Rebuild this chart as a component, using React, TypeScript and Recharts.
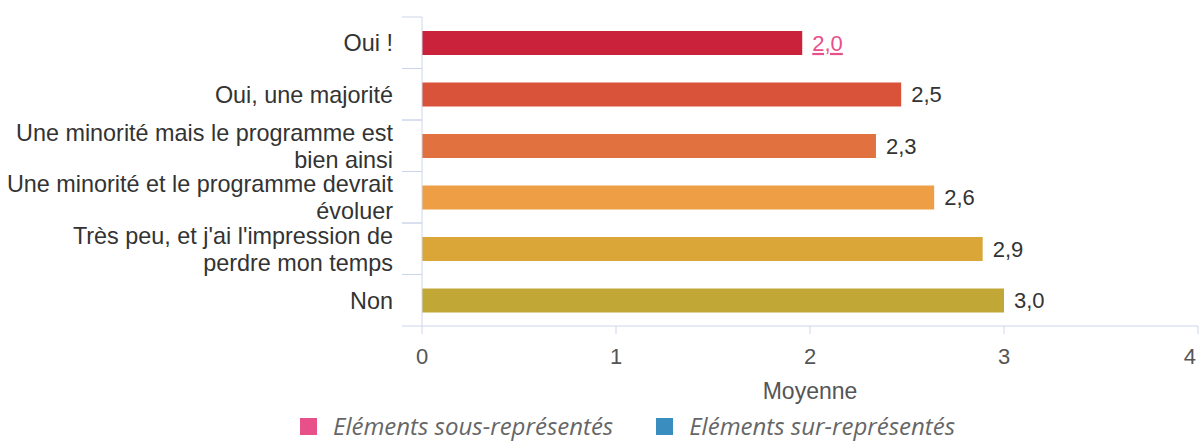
import React from "react";
import { BarChart, Bar, XAxis, YAxis, Cell, LabelList, Legend } from "recharts";

const categories = [
  "Oui !",
  "Oui, une majorité",
  "Une minorité mais le programme est bien ainsi",
  "Une minorité et le programme devrait évoluer",
  "Très peu, et j'ai l'impression de perdre mon temps",
  "Non"
];

// tick labels as they wrap in the original
const tickLabels = [
  ["Oui !"],
  ["Oui, une majorité"],
  ["Une minorité mais le programme est", "bien ainsi"],
  ["Une minorité et le programme devrait", "évoluer"],
  ["Très peu, et j'ai l'impression de", "perdre mon temps"],
  ["Non"]
];

const means = [1.96, 2.47, 2.34, 2.64, 2.89, 3.0];

const barColors = ["#C9223A", "#D9533B", "#E1713F", "#EE9F45", "#D9A637", "#C0A736"];

const underRepresented = ["Oui !"];

const xTicks = [0, 1, 2, 3, 4];

const legendItems = [
  { label: "Eléments sous-représentés", color: "#E8508A" },
  { label: "Eléments sur-représentés", color: "#3A8DBF" }
];

const data = categories.map((name, i) => ({ name, mean: means[i] }));

const axisColor = "#ccd6eb";
const fmt = (v: number) => v.toFixed(1).replace(".", ",");

const CategoryTick = (props: any) => {
  const { x, y, payload } = props;
  const lines = tickLabels[payload.index] || [String(payload.value)];
  const half = payload.offset || 25.7;
  const lh = 27;
  const start = -((lines.length - 1) * lh) / 2;
  return (
    <g>
      <line x1={x - 20} x2={x} y1={y - half} y2={y - half} stroke={axisColor} />
      <line x1={x - 20} x2={x} y1={y + half} y2={y + half} stroke={axisColor} />
      <text x={x - 29} y={y} textAnchor="end" fontSize={23.4} fill="#333">
        {lines.map((l: string, i: number) => (
          <tspan key={i} x={x - 29} y={y + start + i * lh} dy="0.36em">
            {l}
          </tspan>
        ))}
      </text>
    </g>
  );
};

const ValueTick = (props: any) => {
  const { x, y, payload, index } = props;
  const last = index === xTicks.length - 1;
  return (
    <text x={x} y={y + 30} textAnchor={last ? "end" : "middle"} fontSize={22} fill="#555">
      {payload.value}
    </text>
  );
};

const ValueLabel = (props: any) => {
  const { x, y, width, height, value, index } = props;
  const pink = underRepresented.includes(categories[index]);
  return (
    <text
      x={x + width + 10}
      y={y + height / 2}
      dy="0.36em"
      fontSize={22}
      fill={pink ? "#E8508A" : "#333"}
      textDecoration={pink ? "underline" : undefined}
    >
      {fmt(value)}
    </text>
  );
};

const LegendContent = () => (
  <div
    style={{
      height: 36,
      display: "flex",
      alignItems: "center",
      paddingLeft: 300,
      paddingTop: 2,
      boxSizing: "border-box",
      fontFamily: "'Open Sans', sans-serif",
      fontStyle: "italic",
      fontSize: 24,
      lineHeight: "26px",
      color: "#666"
    }}
  >
    {legendItems.map((it, i) => (
      <div key={it.label} style={{ display: "flex", alignItems: "center", marginLeft: i ? 43 : 0 }}>
        <div style={{ width: 17, height: 17, background: it.color, marginRight: 16 }} />
        <span style={{ whiteSpace: "nowrap" }}>{it.label}</span>
      </div>
    ))}
  </div>
);

export default function App() {
  return (
    <div style={{ position: "absolute", left: 0, top: 0, width: 1200, height: 443, background: "#fff", overflow: "hidden" }}>
      <BarChart
        width={1200}
        height={443}
        data={data}
        layout="vertical"
        margin={{ top: 17, right: 2, bottom: 0, left: 0 }}
        style={{ fontFamily: "'Liberation Sans', Arial, sans-serif" }}
      >
        <XAxis
          type="number"
          domain={[0, 4]}
          ticks={xTicks}
          height={81}
          stroke={axisColor}
          tickSize={8}
          tickMargin={0}
          tick={<ValueTick />}
          label={{ value: "Moyenne", position: "insideBottom", offset: 8, fontSize: 23, fill: "#555" }}
        />
        <YAxis
          type="category"
          dataKey="name"
          width={422}
          stroke={axisColor}
          tickLine={false}
          tickSize={0}
          tickMargin={0}
          tick={<CategoryTick />}
          interval={0}
        />
        <Bar dataKey="mean" barSize={24} isAnimationActive={false}>
          {data.map((d, i) => (
            <Cell key={d.name} fill={barColors[i]} />
          ))}
          <LabelList dataKey="mean" content={<ValueLabel />} />
        </Bar>
        <Legend verticalAlign="bottom" content={<LegendContent />} wrapperStyle={{ left: 0, width: 1200 }} />
      </BarChart>
    </div>
  );
}
